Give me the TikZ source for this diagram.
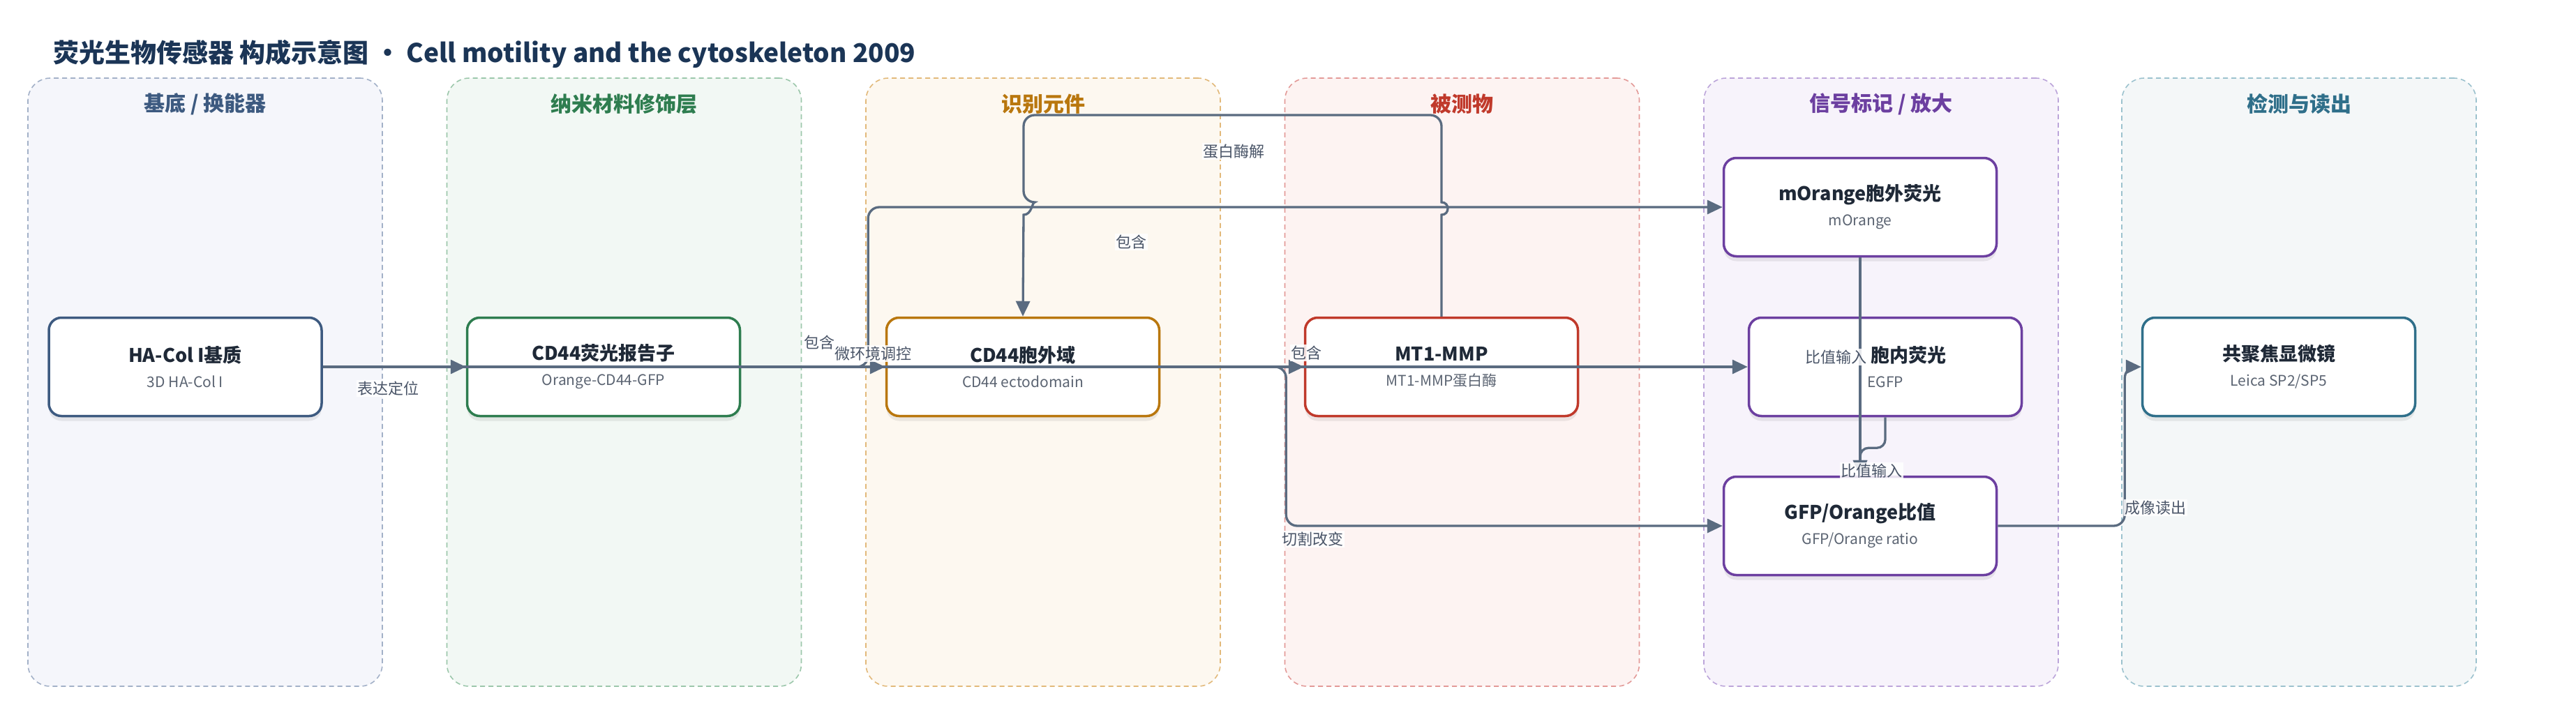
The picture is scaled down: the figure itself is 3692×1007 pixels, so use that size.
\documentclass[tikz,border=0pt]{standalone}
\usepackage{fontspec}
\setmainfont{Noto Sans CJK SC}
\usetikzlibrary{arrows.meta,shadows,calc}
\definecolor{titlec}{HTML}{1B3556}
\definecolor{edgec}{HTML}{5A6B80}
\definecolor{labc}{HTML}{4A5568}
\definecolor{ntext}{HTML}{1F2937}
\definecolor{nsub}{HTML}{5B6472}
% lane colours
\definecolor{laAf}{HTML}{F5F6FB}\definecolor{laAd}{HTML}{A3B1C8}\definecolor{laAt}{HTML}{3D5A80}
\definecolor{laBf}{HTML}{F2F8F4}\definecolor{laBd}{HTML}{9CC7AB}\definecolor{laBt}{HTML}{2E7D4F}
\definecolor{laCf}{HTML}{FDF8F0}\definecolor{laCd}{HTML}{E2B97A}\definecolor{laCt}{HTML}{B9770E}
\definecolor{laDf}{HTML}{FDF3F2}\definecolor{laDd}{HTML}{E39A98}\definecolor{laDt}{HTML}{C0392B}
\definecolor{laEf}{HTML}{F7F3FB}\definecolor{laEd}{HTML}{BCA5DA}\definecolor{laEt}{HTML}{6C3FA0}
\definecolor{laFf}{HTML}{F4F7F8}\definecolor{laFd}{HTML}{9CC2CE}\definecolor{laFt}{HTML}{2F6F8A}
\tikzset{
  lanebox/.style n args={2}{draw=#2, fill=#1, dash pattern=on 7pt off 5pt, line width=1.6pt,
     rounded corners=32pt, minimum width=508pt, minimum height=872pt, inner sep=0pt},
  lanetitle/.style={font=\fontsize{30}{32}\selectfont\bfseries, inner sep=0pt},
  box/.style={draw=#1, fill=white, line width=3.5pt, rounded corners=18pt,
     minimum width=391pt, minimum height=141pt, align=center, text=ntext,
     font=\fontsize{21}{36}\selectfont,
     general shadow={fill=black, opacity=0.07, shadow yshift=-7pt, shadow xshift=0pt}},
  edge/.style={draw=edgec, line width=3.3pt, rounded corners=16pt,
     -{Triangle[length=22pt,width=20pt]}},
  elabel/.style={font=\fontsize{22}{24}\selectfont, text=labc, fill=white,
     fill opacity=0.85, text opacity=1, inner sep=1.5pt},
}
\newcommand{\nodetxt}[2]{{\fontsize{27}{36}\selectfont\bfseries #1}\\{\color{nsub}#2}}
\begin{document}
\begin{tikzpicture}[x=1pt,y=-1pt]
\useasboundingbox (0,0) rectangle (3692,1007);
\fill[white] (0,0) rectangle (3692,1007);

% title
\node[anchor=west, inner sep=0pt, text=titlec, font=\fontsize{37}{40}\selectfont\bfseries] (title) at (76,77)
  {荧光生物传感器 构成示意图 · Cell motility and the cytoskeleton 2009};

% lanes
\node[lanebox={laAf}{laAd}] (L1) at (294,548) {};
\node[lanebox={laBf}{laBd}] (L2) at (894.5,548) {};
\node[lanebox={laCf}{laCd}] (L3) at (1495,548) {};
\node[lanebox={laDf}{laDd}] (L4) at (2095.5,548) {};
\node[lanebox={laEf}{laEd}] (L5) at (2696,548) {};
\node[lanebox={laFf}{laFd}] (L6) at (3295,548) {};
\node[lanetitle, text=laAt] (T1) at ([yshift=-38pt]L1.north) {基底 / 换能器};
\node[lanetitle, text=laBt] (T2) at ([yshift=-38pt]L2.north) {纳米材料修饰层};
\node[lanetitle, text=laCt] (T3) at ([yshift=-38pt]L3.north) {识别元件};
\node[lanetitle, text=laDt] (T4) at ([yshift=-38pt]L4.north) {被测物};
\node[lanetitle, text=laEt] (T5) at ([yshift=-38pt]L5.north) {信号标记 / 放大};
\node[lanetitle, text=laFt] (T6) at ([yshift=-38pt]L6.north) {检测与读出};

% nodes
\node[box=laAt] (ha) at (265.5,526) {\nodetxt{HA-Col I基质}{3D HA-Col I}};
\node[box=laBt] (rep) at (865,526) {\nodetxt{CD44荧光报告子}{Orange-CD44-GFP}};
\node[box=laCt] (ecto) at (1466,526) {\nodetxt{CD44胞外域}{CD44 ectodomain}};
\node[box=laDt] (mmp) at (2066,526) {\nodetxt{MT1-MMP}{MT1-MMP蛋白酶}};
\node[box=laEt] (mor) at (2666,297) {\nodetxt{mOrange胞外荧光}{mOrange}};
\node[box=laEt] (egfp) at (2702,526) {\nodetxt{\hspace*{66pt}胞内荧光}{EGFP}};
\node[box=laEt] (ratio) at (2666,754) {\nodetxt{GFP/Orange比值}{GFP/Orange ratio}};
\node[box=laFt] (conf) at (3266,526) {\nodetxt{共聚焦显微镜}{Leica SP2/SP5}};

% edges
\draw[edge] (ha.east) -- (rep.west);
\draw[edge] (ha.east) -- (mmp.west);
\draw[edge] (rep.east) -- (ecto.west);
\draw[edge] (rep.east) -- ([xshift=182pt]rep.east) |- (mor.west);
\draw[edge] (rep.east) -- (egfp.west);
\draw[edge, rounded corners=0pt] (mmp.north) -- (2066,308) .. controls (2078,308) and (2078,290) .. (2066,290)
   {[rounded corners=16pt] -- (2066,165) -- (1467,165) -- (1467,290)}
   .. controls (1479,290) and (1479,308) .. (1467,308) -- (ecto.north);
\draw[edge] (ecto.east) -- ([xshift=180pt]ecto.east) |- (ratio.west);
\draw[edge] (mor.south) -- (ratio.north);
\draw[edge, rounded corners=12pt] (egfp.south) -- ++(0,44) -| (ratio.north);
\draw[edge] (ratio.east) -- ([xshift=182pt]ratio.east) |- (conf.west);

% edge labels
\node[elabel] (l1) at (556,557) {表达定位};
\node[elabel] (l2) at (1251,507) {微环境调控};
\node[elabel] (l3) at (1174,491) {包含};
\node[elabel] (l4) at (1621,347) {包含};
\node[elabel] (l5) at (1768,217) {蛋白酶解};
\node[elabel] (l6) at (1872,506) {包含};
\node[elabel] (l7) at (1881,773) {切割改变};
\node[elabel] (l8) at (2631,512) {比值输入};
\node[elabel] (l9) at (2682,675) {比值输入};
\node[elabel] (l10) at (3089,728) {成像读出};
\end{tikzpicture}
\end{document}
